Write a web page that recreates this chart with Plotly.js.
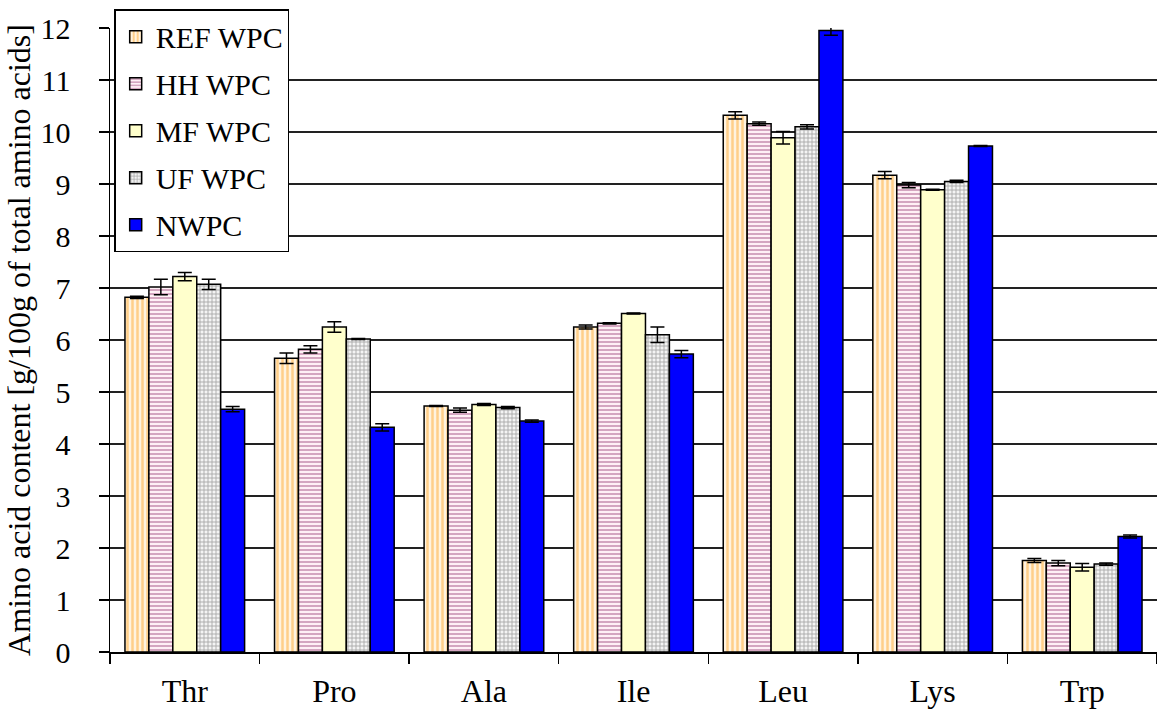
<!DOCTYPE html>
<html>
<head>
<meta charset="utf-8">
<script src="https://cdn.plot.ly/plotly-3.0.1.min.js"></script>
<style>html,body{margin:0;padding:0;background:#fff;}#chart{width:1157px;height:724px;}</style>
</head>
<body>
<div id="chart"></div>
<script>
const categories = ["Thr", "Pro", "Ala", "Ile", "Leu", "Lys", "Trp"];
const seriesNames = ["REF WPC", "HH WPC", "MF WPC", "UF WPC", "NWPC"];
const refWPC   = [6.82, 5.65, 4.73, 6.25, 10.32, 9.17, 1.76];
const refErr   = [0.02, 0.10, 0.01, 0.04, 0.07, 0.07, 0.04];
const hhWPC    = [7.02, 5.82, 4.65, 6.32, 10.16, 8.98, 1.71];
const hhErr    = [0.15, 0.07, 0.04, 0.01, 0.03, 0.05, 0.05];
const mfWPC    = [7.22, 6.25, 4.76, 6.51, 9.89, 8.89, 1.63];
const mfErr    = [0.08, 0.10, 0.02, 0.01, 0.12, 0.01, 0.07];
const ufWPC    = [7.07, 6.02, 4.70, 6.10, 10.10, 9.05, 1.69];
const ufErr    = [0.10, 0.01, 0.02, 0.15, 0.04, 0.02, 0.02];
const nwpc     = [4.67, 4.32, 4.44, 5.73, 11.95, 9.73, 2.22];
const nwpcErr  = [0.05, 0.07, 0.02, 0.07, 0.09, 0.01, 0.03];
const yTicks = [0,1,2,3,4,5,6,7,8,9,10,11,12];

const values = [refWPC, hhWPC, mfWPC, ufWPC, nwpc];
const errors = [refErr, hhErr, mfErr, ufErr, nwpcErr];
const markers = [
  {color: "#FFF3E0", pattern: {shape: "|", fgcolor: "#FFCF8A", bgcolor: "#FFF3E0", size: 5, solidity: 0.5}},
  {color: "#FFF0F5", pattern: {shape: "-", fgcolor: "#D4A6C0", bgcolor: "#FFF0F5", size: 4, solidity: 0.5}},
  {color: "#FFFFCC"},
  {color: "#F0F0F0", pattern: {shape: "+", fgcolor: "#A8A8A8", bgcolor: "#F4F4F4", size: 4, solidity: 0.4}},
  {color: "#0000FF"}
];

const traces = seriesNames.map((name, i) => ({
  type: "bar",
  name: name,
  legendgroup: "g" + i,
  x: categories,
  y: values[i],
  marker: Object.assign({line: {color: "#000", width: 1.5}}, markers[i]),
  error_y: {type: "data", array: errors[i], visible: true, color: "#000", thickness: 1.5, width: 7}
}));

const fam = "'Liberation Serif', 'Times New Roman', Times, serif";
const font = {family: fam, color: "#000", size: 30};
const bigFont = {family: fam, color: "#000", size: 32};

const layout = {
  width: 1157, height: 724,
  margin: {l: 110, r: 0, t: 28, b: 72},
  paper_bgcolor: "#fff", plot_bgcolor: "#fff",
  font: font,
  barmode: "group",
  bargap: 0.2,
  bargroupgap: 0,
  showlegend: true,
  legend: {
    x: 0.004, y: 1.03, xanchor: "left", yanchor: "top",
    bgcolor: "#fff", bordercolor: "#000", borderwidth: 1.5,
    font: {family: fam, size: 30, color: "#000"},
    tracegroupgap: 5, itemwidth: 30
  },
  xaxis: {
    type: "category",
    tickson: "boundaries",
    ticks: "outside", ticklen: 10, tickcolor: "#000", tickwidth: 1.5,
    showline: true, linecolor: "#000", linewidth: 1.5,
    showgrid: false, zeroline: false,
    ticklabelstandoff: 10,
    tickfont: bigFont
  },
  yaxis: {
    range: [0, 12],
    tickvals: yTicks,
    ticktext: yTicks.map(String),
    ticks: "outside", ticklen: 10, tickcolor: "#000", tickwidth: 1.5,
    showline: true, linecolor: "#000", linewidth: 1.5,
    showgrid: true, gridcolor: "#222", gridwidth: 1.2,
    zeroline: false,
    ticklabelstandoff: 22,
    tickfont: font,
    title: {text: "Amino acid content [g/100g of total amino acids]", font: bigFont, standoff: 0}
  }
};

Plotly.newPlot("chart", traces, layout, {displayModeBar: false, staticPlot: true});
</script>
</body>
</html>
